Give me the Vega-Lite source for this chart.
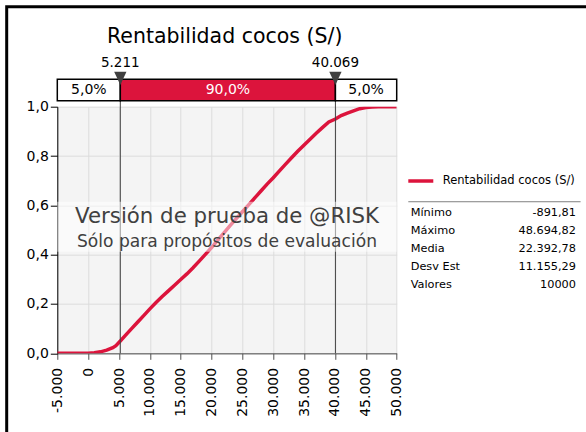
{
  "$schema": "https://vega.github.io/schema/vega-lite/v6.json",
  "width": 339.4,
  "height": 246.6,
  "autosize": {"type": "none"},
  "padding": {"left": 57.3, "top": 106.7, "right": 189.3, "bottom": 78.7},
  "background": "white",
  "config": {
    "font": "DejaVu Sans",
    "view": {"stroke": null, "fill": "#f4f4f4"},
    "locale": {"number": {"decimal": ",", "thousands": ".", "grouping": [3], "currency": ["", ""], "minus": "-"}}
  },
  "datasets": {
    "cdf": [
      {"x": -5000, "p": 0}, {"x": -891.81, "p": 0}, {"x": 0, "p": 0.0005},
      {"x": 1000, "p": 0.002}, {"x": 2000, "p": 0.006}, {"x": 3000, "p": 0.013},
      {"x": 4000, "p": 0.023}, {"x": 4500, "p": 0.031}, {"x": 5211, "p": 0.05},
      {"x": 6000, "p": 0.072}, {"x": 7000, "p": 0.099}, {"x": 8000, "p": 0.126},
      {"x": 9000, "p": 0.153}, {"x": 10000, "p": 0.180}, {"x": 11000, "p": 0.206},
      {"x": 12000, "p": 0.230}, {"x": 13000, "p": 0.253}, {"x": 14000, "p": 0.276},
      {"x": 15000, "p": 0.299}, {"x": 16000, "p": 0.322}, {"x": 17000, "p": 0.347},
      {"x": 18000, "p": 0.374}, {"x": 19000, "p": 0.401}, {"x": 20000, "p": 0.429},
      {"x": 21000, "p": 0.459}, {"x": 22000, "p": 0.488}, {"x": 23000, "p": 0.518},
      {"x": 24000, "p": 0.546}, {"x": 25000, "p": 0.574}, {"x": 26000, "p": 0.602},
      {"x": 27000, "p": 0.630}, {"x": 28000, "p": 0.658}, {"x": 29000, "p": 0.686},
      {"x": 30000, "p": 0.712}, {"x": 31000, "p": 0.740}, {"x": 32000, "p": 0.767},
      {"x": 33000, "p": 0.794}, {"x": 34000, "p": 0.820}, {"x": 35000, "p": 0.845},
      {"x": 36000, "p": 0.869}, {"x": 37000, "p": 0.893}, {"x": 38000, "p": 0.916},
      {"x": 39000, "p": 0.938}, {"x": 40069, "p": 0.95}, {"x": 41000, "p": 0.964},
      {"x": 42000, "p": 0.974}, {"x": 43000, "p": 0.983}, {"x": 44000, "p": 0.992},
      {"x": 45000, "p": 0.997}, {"x": 46000, "p": 0.999}, {"x": 47000, "p": 1.0},
      {"x": 48694.82, "p": 1.0}, {"x": 50000, "p": 1.0}
    ],
    "segments": [
      {"id": 1, "seg": "5,0%", "x0": -5000, "x1": 5211},
      {"id": 2, "seg": "90,0%", "x0": 5211, "x1": 40069},
      {"id": 3, "seg": "5,0%", "x0": 40069, "x1": 50000}
    ],
    "pcts": [
      {"value": 5211},
      {"value": 40069}
    ],
    "stats": [
      {"row": 1, "label": "Mínimo", "value": "-891,81"},
      {"row": 2, "label": "Máximo", "value": "48.694,82"},
      {"row": 3, "label": "Media", "value": "22.392,78"},
      {"row": 4, "label": "Desv Est", "value": "11.155,29"},
      {"row": 5, "label": "Valores", "value": "10000"}
    ]
  },
  "layer": [
    {
      "layer": [
        {
          "data": {"name": "cdf"},
          "mark": {"type": "line", "color": "#dc143c", "strokeWidth": 3.5, "clip": true},
          "encoding": {
            "x": {
              "field": "x", "type": "quantitative",
              "scale": {"domain": [-5000, 50000], "nice": false, "zero": false},
              "axis": {
                "title": null, "values": [-5000, 0, 5000, 10000, 15000, 20000, 25000, 30000, 35000, 40000, 45000, 50000],
                "tickCount": 20,
                "format": ",.0f", "labelAngle": 270, "labelFontSize": 14, "labelColor": "black",
                "tickSize": 6, "labelPadding": 8, "tickColor": "#505050", "domainColor": "#505050",
                "gridColor": "#dcdcdc", "labelFlush": false, "labelOverlap": false
              }
            },
            "y": {
              "field": "p", "type": "quantitative",
              "scale": {"domain": [0, 1], "nice": false},
              "axis": {
                "title": null, "values": [0, 0.2, 0.4, 0.6, 0.8, 1.0], "tickCount": 10, "format": ".1f",
                "labelFontSize": 14, "labelColor": "black", "tickSize": 7, "labelPadding": 2,
                "tickColor": "black", "domainColor": "black", "gridColor": "#dcdcdc",
                "labelFlush": false, "labelOverlap": false
              }
            }
          }
        },
        {
          "data": {"name": "pcts"},
          "mark": {"type": "rule", "color": "#404040", "strokeWidth": 1, "clip": false},
          "encoding": {
            "x": {"field": "value", "type": "quantitative"},
            "y": {"datum": 0},
            "y2": {"datum": 1.111}
          }
        },
        {
          "data": {"values": [{"a": 1}]},
          "mark": {"type": "rect", "fill": "white", "opacity": 0.5},
          "encoding": {
            "x": {"datum": -5000}, "x2": {"datum": 50000},
            "y": {"datum": 0.412}, "y2": {"datum": 0.615}
          }
        },
        {
          "data": {"values": [{"t": "Versión de prueba de @RISK"}]},
          "mark": {"type": "text", "fontSize": 21.3, "color": "#404040", "align": "center", "baseline": "middle"},
          "encoding": {"x": {"datum": 22500}, "y": {"datum": 0.554}, "text": {"field": "t"}}
        },
        {
          "data": {"values": [{"t": "Sólo para propósitos de evaluación"}]},
          "mark": {"type": "text", "fontSize": 17.1, "color": "#404040", "align": "center", "baseline": "middle"},
          "encoding": {"x": {"datum": 22500}, "y": {"datum": 0.450}, "text": {"field": "t"}}
        },
        {
          "data": {"name": "segments"},
          "mark": {"type": "rect", "stroke": "black", "strokeWidth": 1.5, "clip": false},
          "encoding": {
            "x": {"field": "x0", "type": "quantitative"},
            "x2": {"field": "x1"},
            "y": {"datum": 1.024},
            "y2": {"datum": 1.111},
            "fill": {"field": "seg", "type": "nominal", "scale": {"domain": ["5,0%", "90,0%"], "range": ["white", "#dc143c"]}, "legend": null}
          }
        },
        {
          "data": {"name": "segments"},
          "transform": [{"fold": ["x0", "x1"], "as": ["end", "pos"]}],
          "mark": {"type": "text", "fontSize": 14, "align": "center", "baseline": "middle", "clip": false},
          "encoding": {
            "x": {"field": "pos", "type": "quantitative", "aggregate": "mean"},
            "y": {"datum": 1.068},
            "detail": {"field": "id", "type": "nominal"},
            "text": {"field": "seg", "type": "nominal"},
            "color": {"field": "seg", "type": "nominal", "scale": {"domain": ["5,0%", "90,0%"], "range": ["black", "white"]}, "legend": null}
          }
        },
        {
          "data": {"name": "pcts"},
          "mark": {"type": "point", "shape": "M-1,-1.08L1,-1.08L0,1.08Z", "filled": true, "color": "#404040", "opacity": 1, "size": 151, "clip": false},
          "encoding": {
            "x": {"field": "value", "type": "quantitative"},
            "y": {"datum": 1.115}
          }
        },
        {
          "data": {"name": "pcts"},
          "mark": {"type": "text", "fontSize": 13.5, "color": "black", "align": "center", "baseline": "middle", "clip": false},
          "encoding": {
            "x": {"field": "value", "type": "quantitative"},
            "y": {"datum": 1.178},
            "text": {"field": "value", "type": "quantitative", "format": ",.0f"}
          }
        },
        {
          "data": {"values": [{"t": "Rentabilidad cocos (S/)"}]},
          "mark": {"type": "text", "fontSize": 20.5, "color": "black", "align": "center", "baseline": "middle", "clip": false},
          "encoding": {"x": {"datum": 22127}, "y": {"datum": 1.283}, "text": {"field": "t"}}
        },
        {
          "data": {"values": [{"a": 1}]},
          "mark": {"type": "rect", "fill": null, "stroke": "black", "strokeWidth": 3, "clip": false},
          "encoding": {
            "x": {"datum": -13200}, "x2": {"datum": 95000},
            "y": {"datum": 1.4055}, "y2": {"datum": -0.5}
          }
        },
        {
          "data": {"values": [{"a": 1}]},
          "mark": {"type": "rule", "color": "#dc143c", "strokeWidth": 3.5, "clip": false},
          "encoding": {
            "x": {"datum": 51880}, "x2": {"datum": 55930},
            "y": {"datum": 0.6987}
          }
        },
        {
          "data": {"values": [{"t": "Rentabilidad cocos (S/)"}]},
          "mark": {"type": "text", "fontSize": 11.5, "color": "black", "align": "left", "baseline": "middle", "clip": false},
          "encoding": {"x": {"datum": 57455}, "y": {"datum": 0.6987}, "text": {"field": "t"}}
        },
        {
          "data": {"values": [{"a": 1}]},
          "mark": {"type": "rule", "color": "#808080", "strokeWidth": 1, "clip": false},
          "encoding": {
            "x": {"datum": 51880}, "x2": {"datum": 79800},
            "y": {"datum": 0.6146}
          }
        }
      ]
    },
    {
      "data": {"name": "stats"},
      "layer": [
        {
          "mark": {"type": "text", "fontSize": 11.3, "color": "black", "align": "left", "baseline": "middle", "clip": false},
          "encoding": {
            "x": {"datum": 52270},
            "y": {"field": "row", "type": "quantitative", "scale": {"domain": [-4.955, 8.822], "reverse": true, "nice": false, "zero": false}, "axis": null},
            "text": {"field": "label"}
          }
        },
        {
          "mark": {"type": "text", "fontSize": 11.3, "color": "black", "align": "right", "baseline": "middle", "clip": false},
          "encoding": {
            "x": {"datum": 79055},
            "y": {"field": "row", "type": "quantitative"},
            "text": {"field": "value"}
          }
        }
      ]
    }
  ],
  "resolve": {"scale": {"y": "independent"}}
}
